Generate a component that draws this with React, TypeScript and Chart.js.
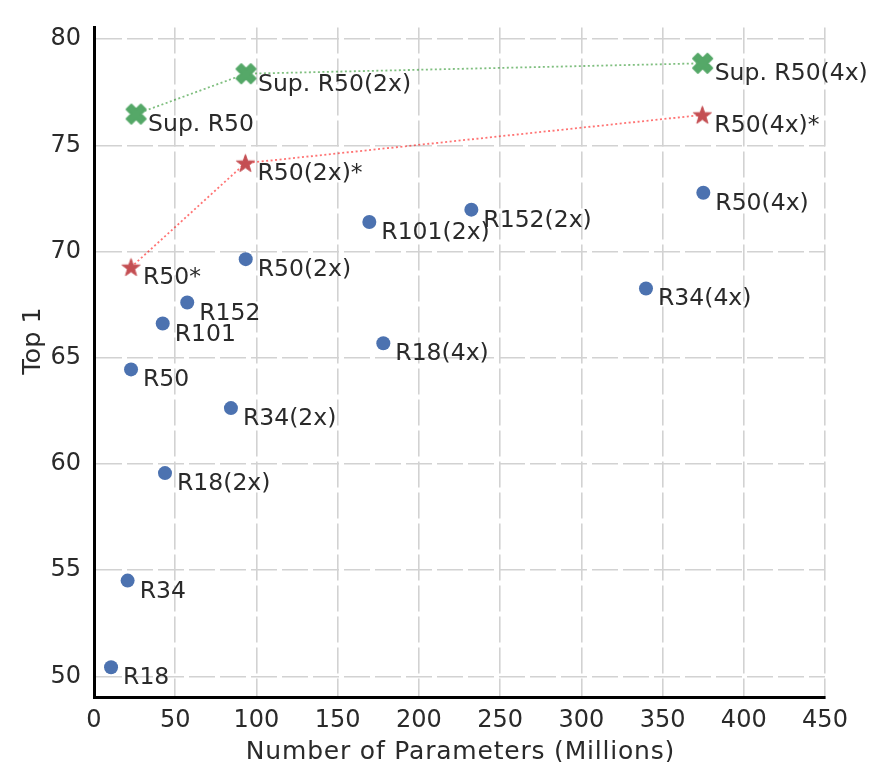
import React, { useEffect, useRef } from "react";
import { Chart, registerables } from "chart.js";

Chart.register(...registerables);

// ---- data ----
const baseNames = ["R18", "R34", "R50", "R101", "R152", "R18(2x)", "R34(2x)", "R50(2x)", "R101(2x)", "R152(2x)", "R18(4x)", "R34(4x)", "R50(4x)"];
const baseParams = [10.5, 20.7, 22.8, 42.3, 57.4, 43.7, 84.3, 93.4, 169.5, 232.3, 178.1, 339.8, 375.1];
const baseTop1 = [50.43, 54.51, 64.45, 66.61, 67.6, 59.57, 62.63, 69.64, 71.39, 71.97, 65.68, 68.26, 72.77];

const starNames = ["R50*", "R50(2x)*", "R50(4x)*"];
const starParams = [22.8, 93.2, 374.5];
const starTop1 = [69.26, 74.16, 76.43];

const supNames = ["Sup. R50", "Sup. R50(2x)", "Sup. R50(4x)"];
const supParams = [25.9, 93.6, 374.7];
const supTop1 = [76.47, 78.37, 78.86];

const xTicks = [0, 50, 100, 150, 200, 250, 300, 350, 400, 450];
const yTicks = [50, 55, 60, 65, 70, 75, 80];
const xTitle = "Number of Parameters (Millions)";
const yTitle = "Top 1";

const FONT = '"DejaVu Sans", "Liberation Sans", sans-serif';
const TEXT = "#2a2a2a";

function makeStar(color: string, R: number): HTMLCanvasElement {
  const c = document.createElement("canvas");
  const size = Math.ceil(2 * R + 4);
  c.width = size;
  c.height = size;
  const ctx = c.getContext("2d")!;
  const cx = size / 2, cy = size / 2 + R * 0.08;
  const r = R * 0.4;
  ctx.beginPath();
  for (let i = 0; i < 10; i++) {
    const ang = -Math.PI / 2 + (i * Math.PI) / 5;
    const rad = i % 2 === 0 ? R : r;
    const px = cx + rad * Math.cos(ang);
    const py = cy + rad * Math.sin(ang);
    if (i === 0) ctx.moveTo(px, py);
    else ctx.lineTo(px, py);
  }
  ctx.closePath();
  ctx.fillStyle = color;
  ctx.fill();
  ctx.strokeStyle = color;
  ctx.lineWidth = 1;
  ctx.stroke();
  return c;
}

function makeX(color: string, s: number): HTMLCanvasElement {
  const c = document.createElement("canvas");
  const size = Math.ceil(s + 6);
  c.width = size;
  c.height = size;
  const ctx = c.getContext("2d")!;
  const cx = size / 2, cy = size / 2;
  const pts = [
    [-1, -2], [0, -1], [1, -2], [2, -1], [1, 0], [2, 1],
    [1, 2], [0, 1], [-1, 2], [-2, 1], [-1, 0], [-2, -1],
  ];
  ctx.beginPath();
  pts.forEach(([px, py], i) => {
    const X = cx + (px / 4) * s;
    const Y = cy + (py / 4) * s;
    if (i === 0) ctx.moveTo(X, Y);
    else ctx.lineTo(X, Y);
  });
  ctx.closePath();
  ctx.fillStyle = color;
  ctx.fill();
  ctx.strokeStyle = color;
  ctx.lineJoin = "round";
  ctx.lineWidth = 2;
  ctx.stroke();
  return c;
}

const labelSets = [baseNames, starNames, supNames];

const textPlugin = {
  id: "textPlugin",
  afterDatasetsDraw(chart: any) {
    const ctx = chart.ctx;
    ctx.save();
    ctx.font = `23.5px ${FONT}`;
    ctx.fillStyle = TEXT;
    ctx.textAlign = "left";
    ctx.textBaseline = "alphabetic";
    labelSets.forEach((names, di) => {
      const meta = chart.getDatasetMeta(di);
      meta.data.forEach((pt: any, i: number) => {
        ctx.fillText(names[i], pt.x + 12, pt.y + 17);
      });
    });
    ctx.restore();
  },
  afterDraw(chart: any) {
    const ctx = chart.ctx;
    const area = chart.chartArea;
    ctx.save();
    ctx.fillStyle = TEXT;
    ctx.font = `25px ${FONT}`;
    try { (ctx as any).letterSpacing = "0.8px"; } catch (e) {}
    ctx.textAlign = "center";
    ctx.textBaseline = "alphabetic";
    ctx.fillText(xTitle, (area.left + area.right) / 2 + 1, 759);
    try { (ctx as any).letterSpacing = "0px"; } catch (e) {}
    ctx.font = `25.5px ${FONT}`;
    ctx.translate(40, 341);
    ctx.rotate(-Math.PI / 2);
    ctx.fillText(yTitle, 0, 0);
    ctx.restore();
  },
};

export default function App() {
  const ref = useRef<HTMLCanvasElement | null>(null);

  useEffect(() => {
    if (!ref.current) return;
    const starImg = makeStar("#c44e52", 9.5);
    const xImg = makeX("#55a868", 19);

    const gridOpts = { color: "#d2d2d2", lineWidth: 1.6, drawTicks: false };
    const borderOpts = { display: true, color: "#000000", width: 3, dash: [26, 5] };
    const tickFont = { family: FONT, size: 24 };

    const chart = new Chart(ref.current, {
      type: "scatter",
      data: {
        datasets: [
          {
            data: baseParams.map((x, i) => ({ x, y: baseTop1[i] })),
            pointStyle: "circle",
            pointRadius: 7,
            pointHoverRadius: 7,
            backgroundColor: "#4c72b0",
            borderWidth: 0,
            showLine: false,
          },
          {
            data: starParams.map((x, i) => ({ x, y: starTop1[i] })),
            pointStyle: starImg as any,
            pointRadius: 8,
            pointHoverRadius: 8,
            showLine: true,
            borderColor: "rgba(255,0,0,0.55)",
            backgroundColor: "rgba(0,0,0,0)",
            borderWidth: 1.8,
            borderDash: [2, 2.5],
            fill: false,
          },
          {
            data: supParams.map((x, i) => ({ x, y: supTop1[i] })),
            pointStyle: xImg as any,
            pointRadius: 8,
            pointHoverRadius: 8,
            showLine: true,
            borderColor: "rgba(0,128,0,0.5)",
            backgroundColor: "rgba(0,0,0,0)",
            borderWidth: 1.8,
            borderDash: [2, 2.5],
            fill: false,
          },
        ],
      } as any,
      options: {
        responsive: false,
        animation: false,
        devicePixelRatio: 1,
        events: [],
        layout: { padding: { left: 0, top: 15, right: 46, bottom: 0 } },
        plugins: { legend: { display: false }, tooltip: { enabled: false } },
        scales: {
          x: {
            type: "linear",
            position: "bottom",
            min: 0,
            max: 450,
            afterBuildTicks: (s: any) => {
              s.ticks = xTicks.map((v) => ({ value: v }));
            },
            afterFit: (s: any) => {
              s.height = 65;
            },
            ticks: { font: tickFont, color: TEXT, padding: 9, maxRotation: 0, autoSkip: false },
            grid: gridOpts,
            border: borderOpts,
          },
          y: {
            type: "linear",
            min: 49.03,
            max: 80.55,
            afterBuildTicks: (s: any) => {
              s.ticks = yTicks.map((v) => ({ value: v }));
            },
            afterFit: (s: any) => {
              s.width = 94;
            },
            ticks: { font: tickFont, color: TEXT, padding: 13, autoSkip: false },
            grid: gridOpts,
            border: borderOpts,
          },
        },
      } as any,
      plugins: [textPlugin],
    });
    return () => chart.destroy();
  }, []);

  return (
    <div style={{ position: "absolute", left: 0, top: 0, width: 871, height: 762, background: "#fff" }}>
      <canvas ref={ref} width={871} height={762} style={{ display: "block" }} />
    </div>
  );
}
